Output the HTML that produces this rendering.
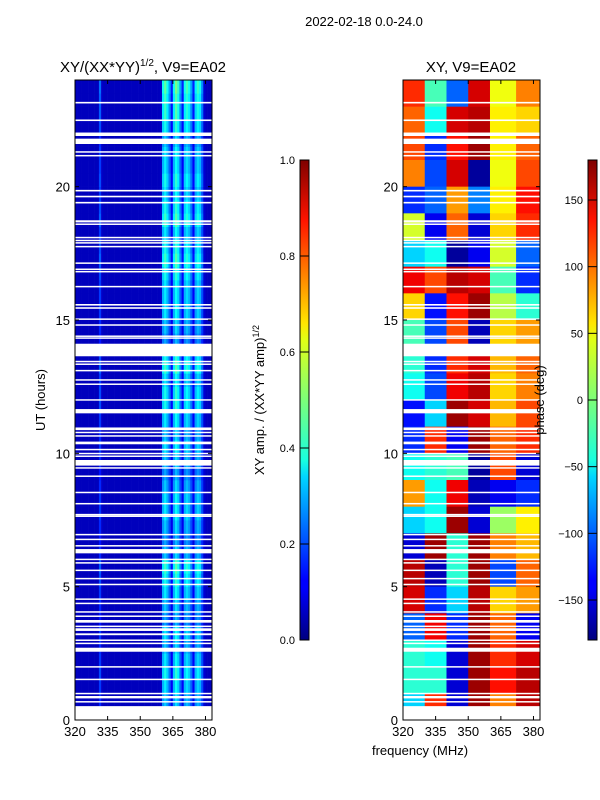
<!DOCTYPE html>
<html><head><meta charset="utf-8"><style>
body{margin:0;background:#fff;}
svg{display:block;font-family:"Liberation Sans",sans-serif;}
</style></head><body>
<svg id="fig" width="600" height="800" viewBox="0 0 600 800">
<defs>
<linearGradient id="jetv" x1="0" y1="1" x2="0" y2="0">
<stop offset="0" stop-color="#00007f"/><stop offset="0.11" stop-color="#0000ff"/>
<stop offset="0.125" stop-color="#0000ff"/><stop offset="0.34" stop-color="#00d5ff"/>
<stop offset="0.375" stop-color="#19ffde"/><stop offset="0.5" stop-color="#7cff79"/>
<stop offset="0.625" stop-color="#e0ff16"/><stop offset="0.66" stop-color="#ffe500"/>
<stop offset="0.875" stop-color="#ff1300"/><stop offset="1" stop-color="#7f0000"/>
</linearGradient>
</defs>
<text x="364" y="26" font-size="13" text-anchor="middle">2022-02-18 0.0-24.0</text>
<text x="143" y="72" font-size="15" text-anchor="middle">XY/(XX*YY)<tspan font-size="10" dy="-6">1/2</tspan><tspan dy="6">, V9=EA02</tspan></text>
<text x="471" y="72" font-size="15" text-anchor="middle">XY, V9=EA02</text>
<g id="left"></g>
<g id="right"></g>
<g id="axes"></g>
<text x="45" y="400" font-size="13" text-anchor="middle" transform="rotate(-90 45 400)">UT (hours)</text>
<text x="420" y="755" font-size="13" text-anchor="middle">frequency (MHz)</text>
<text x="264" y="400" font-size="13" text-anchor="middle" transform="rotate(-90 264 400)">XY amp. / (XX*YY amp)<tspan font-size="9" dy="-5">1/2</tspan></text>
<text x="544" y="400" font-size="13" text-anchor="middle" transform="rotate(-90 544 400)">phase (deg)</text>
<rect x="300" y="160" width="9" height="480" fill="url(#jetv)" stroke="#000" stroke-width="1"/>
<rect x="588" y="160" width="9" height="480" fill="url(#jetv)" stroke="#000" stroke-width="1"/>
<g id="cbars"></g>
</svg>
<script>
// ---- data ----
const freqMin = 320, freqMax = 383, hourMin = 0, hourMax = 24;
const freqTicks = [320, 335, 350, 365, 380];
const hourTicks = [0, 5, 10, 15, 20];
const ampTicks = [0.0, 0.2, 0.4, 0.6, 0.8, 1.0];
const phaseTicks = [-150, -100, -50, 0, 50, 100, 150];
// amplitude per 1-MHz channel (320..382)
const ampProfile = [0.06,0.06,0.06,0.06,0.06,0.06,0.06,0.06,0.06,0.06,0.06,0.18,0.07,0.06,0.06,0.06,0.06,0.06,0.06,0.06,
0.06,0.06,0.06,0.06,0.06,0.06,0.06,0.06,0.06,0.06,0.06,0.06,0.06,0.06,0.06,0.06,0.06,0.06,0.06,0.07,
0.30,0.36,0.30,0.22,0.12,0.30,0.38,0.33,0.22,0.12,0.30,0.34,0.30,0.22,0.12,0.28,0.33,0.30,0.20,0.08,0.06,0.06,0.06];
// row gain per half hour (0..24h)
const ampRowGain = [0.9,0.9,1.0,1.1,1.0,0.9,1.0,0.8,0.9,1.0,1.1,1.2,0.9,0.8,0.9,1.0,1.0,0.9,0.8,0.9,
1.0,0.9,1.0,1.1,1.1,1.0,1.2,1.1,0.8,0.9,1.0,1.0,1.0,1.1,1.2,1.1,1.0,1.2,1.1,1.0,
1.1,1.0,1.0,0.9,1.1,1.2,1.2,1.3];
// phase grid: hour rows (index 0 = 23-24h) x frequency groups
const phaseFreqEdges = [320,330,340,350,360,372,383];
const phaseGrid = [
[120,-20,-100,150,40,90],[100,-40,150,160,50,60],[110,-120,130,170,50,100],[90,-110,150,-170,40,110],
[-120,-100,80,-90,50,130],[30,-140,100,-150,60,120],[-60,-40,-170,-140,30,-100],[140,110,160,150,-20,-120],
[60,-130,130,170,20,-30],[-20,-110,110,-160,60,80],[-30,-120,120,150,70,100],[-40,-110,140,160,60,90],
[-130,-60,170,150,70,110],[-120,120,-140,170,100,120],[-40,-30,-20,-170,110,-150],[80,-40,140,-160,-140,-120],
[-60,-40,170,-150,10,50],[-150,170,-30,170,90,70],[160,-160,-30,170,-110,100],[150,-120,-60,160,60,80],
[-100,140,-120,170,100,-140],[-30,-40,-150,170,120,150],[-30,-30,-150,170,130,160],[-60,120,-150,170,90,160]];
// flagged (blank) time ranges in hours
const flagged = [[23.12,23.18],[22.46,22.52],[21.9,22.03],[21.6,21.8],[21.28,21.33],[21.14,21.19],[19.82,19.88],
[19.6,19.66],[19.37,19.43],[18.66,18.74],[18.57,18.62],[18.07,18.12],[17.96,18.01],[17.87,17.92],[17.73,17.78],
[17.11,17.16],[16.88,16.93],[16.79,16.84],[16.23,16.28],[15.54,15.6],[15.42,15.48],[15.01,15.06],[14.79,14.84],
[14.37,14.42],[14.3,14.35],[13.64,14.11],[13.42,13.47],[13.32,13.37],[13.08,13.13],[12.73,12.78],[12.57,12.62],
[11.98,12.03],[11.5,11.66],[10.87,10.97],[10.76,10.81],[10.63,10.68],[10.34,10.44],[10.12,10.17],[9.97,10.02],
[9.87,9.92],[9.54,9.75],[9.43,9.48],[9.12,9.17],[8.51,8.56],[8.09,8.14],[7.68,7.73],[7.62,7.67],[6.93,6.98],
[6.75,6.8],[6.51,6.56],[6.25,6.41],[6.0,6.05],[5.87,5.92],[5.59,5.64],[5.28,5.33],[5.06,5.11],[4.51,4.56],
[4.35,4.4],[4.03,4.08],[3.87,3.92],[3.65,3.75],[3.49,3.54],[3.34,3.44],[3.18,3.25],[2.97,3.02],[2.85,2.9],
[2.56,2.71],[1.97,2.02],[1.5,1.55],[0.97,1.02],[0.81,0.9],[0.66,0.71],[0,0.52]];

// ---- helpers ----
const NS = "http://www.w3.org/2000/svg";
function el(tag, attrs, parent){const e=document.createElementNS(NS,tag);for(const k in attrs)e.setAttribute(k,attrs[k]);parent.appendChild(e);return e;}
function jet(v){v=Math.max(0,Math.min(1,v));
 const r=Math.max(0,Math.min(1,1.5-Math.abs(4*v-3))),g=Math.max(0,Math.min(1,1.5-Math.abs(4*v-2))),b=Math.max(0,Math.min(1,1.5-Math.abs(4*v-1)));
 return `rgb(${Math.round(r*255)},${Math.round(g*255)},${Math.round(b*255)})`;}
const panels = [{x0:75,x1:212},{x0:403,x1:540}];
const yTop=80,yBot=720;
function yScale(h){return yBot-(h-hourMin)/(hourMax-hourMin)*(yBot-yTop);}
function xScale(p,f){return p.x0+(f-freqMin)/(freqMax-freqMin)*(p.x1-p.x0);}

// ---- left amplitude heatmap ----
const gL=document.getElementById('left');
for(let r=0;r<ampRowGain.length;r++){
 const h0=r*0.5,h1=h0+0.5;
 for(let c=0;c<ampProfile.length;c++){
  const v=ampProfile[c]*(ampProfile[c]>0.1?ampRowGain[r]:1);
  const x0=xScale(panels[0],freqMin+c),x1=xScale(panels[0],freqMin+c+1);
  const cell=el('rect',{x:x0,y:yScale(h1),width:x1-x0+0.3,height:yScale(h0)-yScale(h1)+0.3,fill:jet(v)},gL);
  
  
 }
}
// ---- right phase heatmap ----
const gR=document.getElementById('right');
for(let r=0;r<phaseGrid.length;r++){
 const h1=hourMax-r,h0=h1-1;
 for(let c=0;c<phaseGrid[r].length;c++){
  const x0=xScale(panels[1],phaseFreqEdges[c]),x1=xScale(panels[1],phaseFreqEdges[c+1]);
  const cell=el('rect',{x:x0,y:yScale(h1),width:x1-x0+0.3,height:yScale(h0)-yScale(h1)+0.3,fill:jet((phaseGrid[r][c]+180)/360)},gR);
  
  
 }
}
// ---- flagged rows ----
[gL,gR].forEach((g,i)=>{const p=panels[i];
 flagged.forEach(f=>{
  const fr=el('rect',{x:p.x0,y:yScale(f[1]),width:p.x1-p.x0,height:Math.max(1.5,yScale(f[0])-yScale(f[1])),fill:'#fff'},g);
  
  
 });
});
// ---- axes ----
const gA=document.getElementById('axes');
panels.forEach((p,i)=>{
 const fr=el('rect',{x:p.x0,y:yTop,width:p.x1-p.x0,height:yBot-yTop,fill:'none',stroke:'#000','stroke-width':1},gA);
 
 
 freqTicks.forEach(f=>{const x=xScale(p,f);
  el('line',{x1:x,y1:yBot,x2:x,y2:yBot-4,stroke:'#000'},gA);
  el('line',{x1:x,y1:yTop,x2:x,y2:yTop+4,stroke:'#000'},gA);
  const t=el('text',{x:x,y:yBot+16,'font-size':13,'text-anchor':'middle'},gA);t.textContent=f;
  
  
 });
 hourTicks.forEach(h=>{const y=yScale(h);
  el('line',{x1:p.x0,y1:y,x2:p.x0+4,y2:y,stroke:'#000'},gA);
  el('line',{x1:p.x1,y1:y,x2:p.x1-4,y2:y,stroke:'#000'},gA);
  const t=el('text',{x:p.x0-5,y:y+5,'font-size':13,'text-anchor':'end'},gA);t.textContent=h;
  
  
 });
});
// ---- colorbar ticks ----
const gC=document.getElementById('cbars');
ampTicks.forEach(v=>{const y=640-v*480;
 el('line',{x1:300,y1:y,x2:309,y2:y,stroke:'#000'},gC);
 const t=el('text',{x:295,y:y+4,'font-size':11,'text-anchor':'end'},gC);t.textContent=v.toFixed(1);
 
 
});
phaseTicks.forEach(v=>{const y=640-(v+180)/360*480;
 el('line',{x1:588,y1:y,x2:597,y2:y,stroke:'#000'},gC);
 const t=el('text',{x:583,y:y+4,'font-size':11,'text-anchor':'end'},gC);t.textContent=v<0?'\u2212'+(-v):v;
 
 
});
</script>
</body></html>
